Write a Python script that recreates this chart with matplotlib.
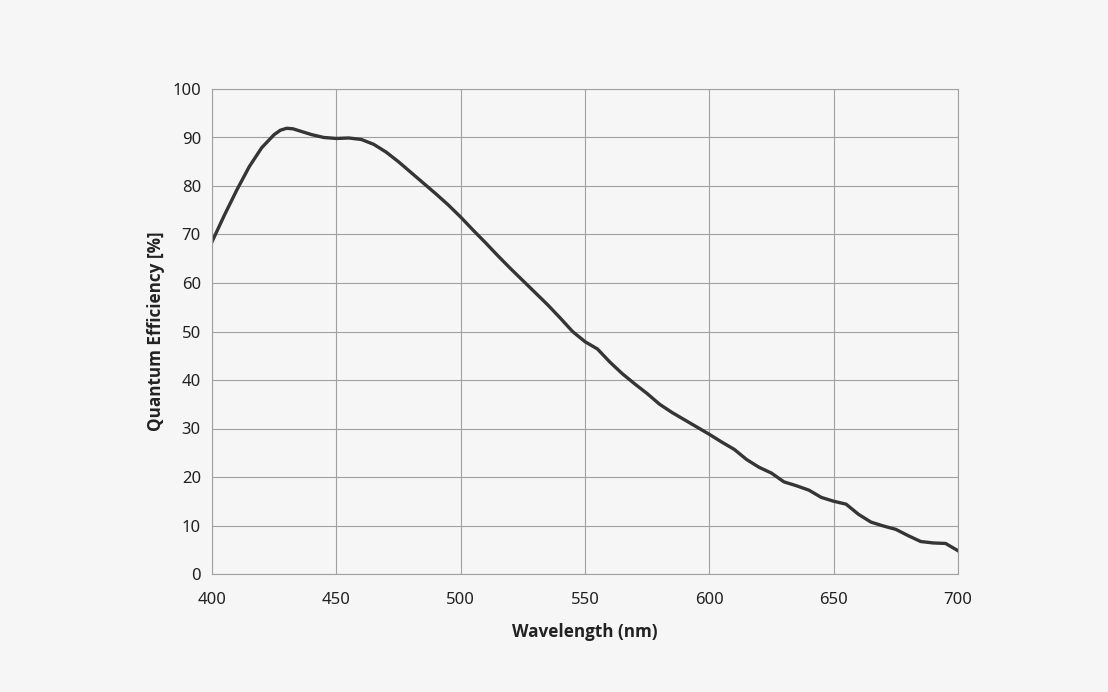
import matplotlib
matplotlib.use("Agg")
import matplotlib.pyplot as plt

wavelength = [400, 405, 410, 415, 420, 425, 427.5, 430, 432.5, 435, 440, 445, 450, 455, 460, 465, 470,
              475, 480, 485, 490, 495, 500, 505, 510, 515, 520, 525, 530, 535, 540, 545,
              550, 555, 560, 565, 570, 575, 580, 585, 590, 595, 600, 605, 610, 615, 620,
              625, 630, 635, 640, 645, 650, 655, 660, 665, 670, 675, 680, 685, 690, 695, 700]
qe = [68.5, 74.0, 79.2, 84.0, 87.9, 90.6, 91.5, 91.9, 91.8, 91.4, 90.6, 90.0, 89.8, 89.9, 89.6, 88.6, 87.0,
      85.0, 82.8, 80.6, 78.4, 76.1, 73.6, 70.9, 68.3, 65.6, 63.0, 60.5, 58.0, 55.5, 52.8, 50.0,
      47.9, 46.4, 43.7, 41.3, 39.2, 37.2, 35.0, 33.3, 31.8, 30.3, 28.8, 27.2, 25.7, 23.6, 22.0,
      20.8, 19.0, 18.2, 17.3, 15.8, 15.0, 14.4, 12.3, 10.7, 9.9, 9.2, 7.9, 6.7, 6.4, 6.3, 4.8]
xticks = [400, 450, 500, 550, 600, 650, 700]
yticks = [0, 10, 20, 30, 40, 50, 60, 70, 80, 90, 100]

plt.rcParams['font.family'] = ['Noto Sans', 'DejaVu Sans']
bg = '#f6f6f6'
fig = plt.figure(figsize=(11.08, 6.92), dpi=100, facecolor=bg)
ax = fig.add_axes([212/1108, 1 - 574/692, (958-212)/1108, (574-89)/692], facecolor=bg)
ax.plot(wavelength, qe, color='#353535', lw=2.4, solid_joinstyle='round')
ax.set_xlim(400, 700)
ax.set_ylim(0, 100)
ax.set_xticks(xticks)
ax.set_yticks(yticks)
ax.grid(True, color='#a0a0a0', lw=0.8)
ax.set_axisbelow(True)
for s in ax.spines.values():
    s.set_color('#a0a0a0')
    s.set_linewidth(0.8)
ax.tick_params(length=0, labelsize=12, colors='#222222')
ax.tick_params(axis='x', pad=13)
ax.tick_params(axis='y', pad=8)
lab = dict(fontsize=12.3, fontweight='bold', color='#222222', family='Open Sans')
ax.set_xlabel('Wavelength (nm)', labelpad=11, **lab)
ax.set_ylabel('Quantum Efficiency [%]', labelpad=5, **lab)
fig.savefig('out.png', dpi=100, facecolor=bg)
